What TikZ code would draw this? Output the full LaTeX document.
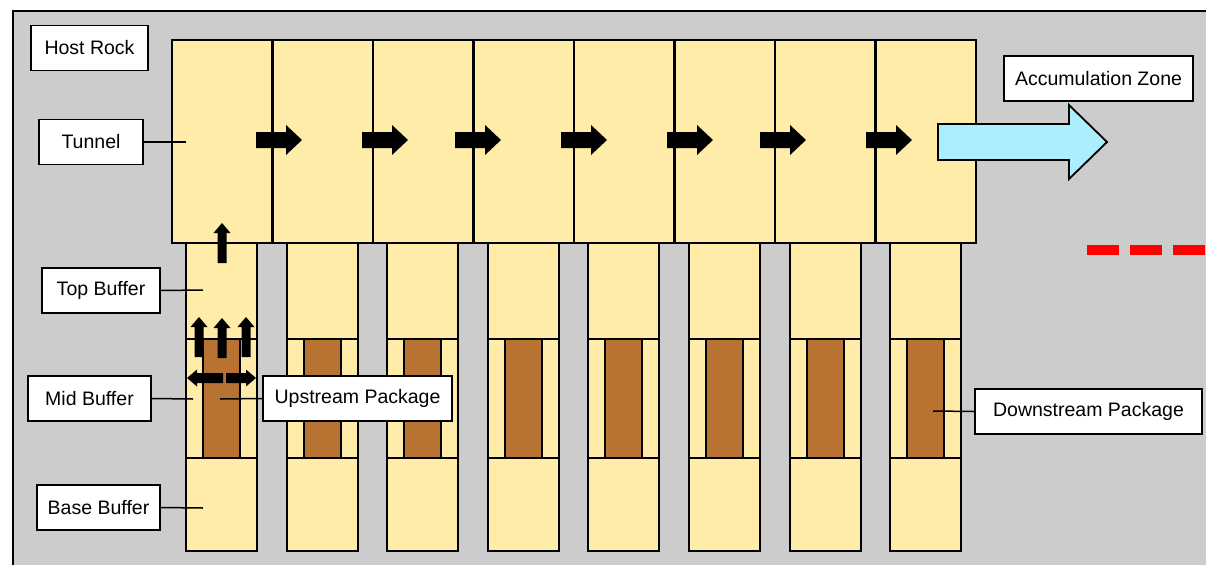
\documentclass[tikz,border=0pt]{standalone}
\usepackage{fontspec}
\setmainfont{Liberation Sans}
\definecolor{rockgray}{HTML}{CCCCCC}
\definecolor{buffer}{HTML}{FFECA8}
\definecolor{pkg}{HTML}{B87333}
\definecolor{accum}{HTML}{AAEEFF}
\definecolor{dashred}{HTML}{FF0000}
\tikzset{
  labelbox/.style={draw=black, fill=white, line width=1.8pt, inner sep=0pt,
    font=\fontsize{19.5}{22}\selectfont, minimum height=45pt},
  leader/.style={draw=black, line width=1.5pt},
  wall/.style={draw=black, line width=2.2pt},
  blockR/.pic={\fill[black] (0,-8) -- (30,-8) -- (30,-15) -- (46,0) -- (30,15) -- (30,8) -- (0,8) -- cycle;},
  blockU/.pic={\fill[black] (-4.5,0) -- (-4.5,-30) -- (-8.5,-30) -- (0,-40) -- (8.5,-30) -- (4.5,-30) -- (4.5,0) -- cycle;}
}
\begin{document}
\begin{tikzpicture}[x=1pt,y=-1pt]
\useasboundingbox (0,0) rectangle (1206,565);
% host rock
\fill[rockgray] (13,11) rectangle (1206,565);
\draw[line width=2pt] (13,565) -- (13,11) -- (1206,11);
% tunnel
\foreach \i in {0,...,7} {
  \filldraw[fill=buffer, wall] ({172+100.5*\i},40) rectangle ({172+100.5*(\i+1)},243);
}
% deposition holes
\foreach \x in {186,287,387,488,588,689,790,890} {
  \filldraw[fill=buffer, wall] (\x,243) rectangle (\x+71,551);
  \draw[wall] (\x,339) -- (\x+71,339);
  \draw[wall] (\x,458) -- (\x+71,458);
  \filldraw[fill=pkg, wall] (\x+17,339) rectangle (\x+54,458);
}
% flow arrows in tunnel
\foreach \x in {256,362,455,561,667,760,866} {
  \pic at (\x,140) {blockR};
}
% accumulation arrow
\filldraw[fill=accum, draw=black, line width=1.8pt] (938,124) -- (1069,124) -- (1069,105) -- (1107,142) -- (1069,179) -- (1069,160) -- (938,160) -- cycle;
% red dashes
\draw[dashred, line width=10pt, dash pattern=on 32pt off 11pt] (1087,250) -- (1206,250);
% small arrows in first hole
\pic at (222,263) {blockU};
\pic at (199,357) {blockU};
\pic at (222,358) {blockU};
\pic at (246,357) {blockU};
\fill[black] (223,373) -- (197,373) -- (197,369.5) -- (187,378) -- (197,386.5) -- (197,383) -- (223,383) -- cycle;
\fill[black] (226,373) -- (246,373) -- (246,369.5) -- (256,378) -- (246,386.5) -- (246,383) -- (226,383) -- cycle;
% leader end points
\coordinate (pTunnel) at (186,142);
\coordinate (pTop) at (203,290);
\coordinate (pMid) at (193,399);
\coordinate (pBase) at (203,508);
\coordinate (pUp) at (220,399);
\coordinate (pDown) at (933,411);
% labels
\node[labelbox, minimum width=117pt] (host) at (89.5,48) {Host Rock};
\node[labelbox, minimum width=104pt] (tunnel) at (91,142) {Tunnel};
\node[labelbox, minimum width=118pt] (top) at (101,290.5) {Top Buffer};
\node[labelbox, minimum width=123pt] (mid) at (89.5,398.5) {Mid Buffer};
\node[labelbox, minimum width=123pt] (base) at (98.5,507.5) {Base Buffer};
\node[labelbox, minimum width=189pt] (up) at (357.5,398.5) {Upstream Package};
\node[labelbox, minimum width=189pt] (acc) at (1098.5,78.5) {Accumulation Zone};
\node[labelbox, minimum width=227pt] (down) at (1088.5,411.5) {Downstream Package};
% leaders
\draw[leader] (tunnel.east) -- (pTunnel);
\draw[leader] (top.east) -- (pTop);
\draw[leader] (mid.east) -- (pMid);
\draw[leader] (base.east) -- (pBase);
\draw[leader] (up.west) -- (pUp);
\draw[leader] (down.west) -- (pDown);
\end{tikzpicture}
\end{document}
